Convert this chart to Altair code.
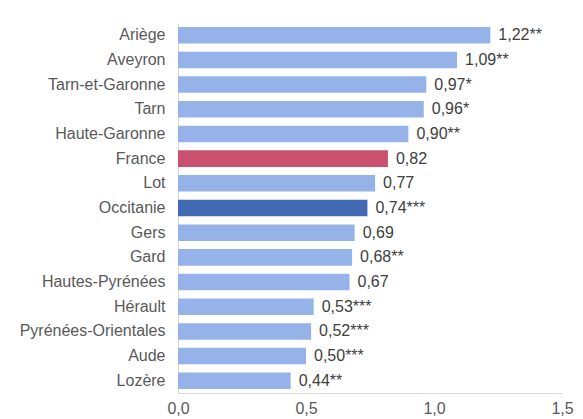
import altair as alt
import pandas as pd

categories = ["Ariège", "Aveyron", "Tarn-et-Garonne", "Tarn", "Haute-Garonne", "France",
              "Lot", "Occitanie", "Gers", "Gard", "Hautes-Pyrénées", "Hérault",
              "Pyrénées-Orientales", "Aude", "Lozère"]
values = [1.22, 1.09, 0.97, 0.96, 0.90, 0.82, 0.77, 0.74, 0.69, 0.68, 0.67, 0.53, 0.52, 0.50, 0.44]
signif = ["**", "**", "*", "*", "**", "", "", "***", "", "**", "", "***", "***", "***", "**"]
groups = ["dep", "dep", "dep", "dep", "dep", "France", "dep", "Occitanie", "dep", "dep", "dep",
          "dep", "dep", "dep", "dep"]

df = pd.DataFrame({
    "cat": categories,
    "val": values,
    "grp": groups,
    "label": [f"{v:.2f}".replace(".", ",") + s for v, s in zip(values, signif)],
})

FONT = "Liberation Sans"
FS = 16

base = alt.Chart(df).encode(
    y=alt.Y("cat:N", sort=categories, title=None,
            scale=alt.Scale(paddingInner=0.33, paddingOuter=0.16),
            axis=alt.Axis(ticks=False, domainColor="#d9d9d9", labelColor="#595959",
                          labelFontSize=FS, labelFont=FONT, labelPadding=13)),
)

bars = base.mark_bar().encode(
    x=alt.X("val:Q", title=None,
            scale=alt.Scale(domain=[0, 1.5], nice=False),
            axis=alt.Axis(values=[0, 0.5, 1.0, 1.5], ticks=False, grid=False,
                          domainColor="#d9d9d9", labelColor="#595959", labelFontSize=FS,
                          labelFont=FONT, labelPadding=7, labelFlush=False,
                          labelExpr="replace(format(datum.value, '.1f'), '.', ',')")),
    color=alt.Color("grp:N", legend=None,
                    scale=alt.Scale(domain=["dep", "France", "Occitanie"],
                                    range=["#95b3e8", "#c9506e", "#4169b4"])),
)

texts = base.mark_text(align="left", dx=8, fontSize=FS, font=FONT, color="#404040").encode(
    x="val:Q", text="label:N")

chart = (bars + texts).properties(
    width=384, height=370,
    autosize=alt.AutoSizeParams(type="none"),
    padding={"left": 170, "top": 15, "right": 13, "bottom": 26},
).configure_view(stroke=None)

chart.save("out.html", embed_options={"renderer": "svg", "actions": False})
